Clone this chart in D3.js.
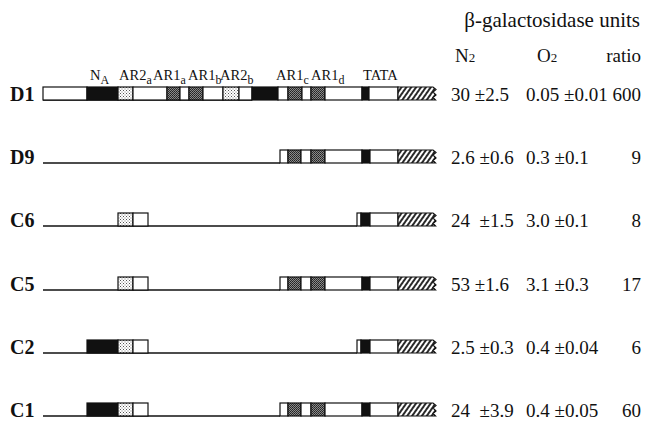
<!DOCTYPE html>
<html>
<head>
<meta charset="utf-8">
<script src="https://cdn.jsdelivr.net/npm/d3@7"></script>
<style>
  body { margin: 0; background: #fff; }
  #chart { width: 650px; height: 421px; }
  text { font-family: "Liberation Serif", "Times New Roman", serif; fill: #111; }
</style>
</head>
<body>
<div id="chart"></div>
<script>
// constructs, top to bottom
const constructs = ["D1", "D9", "C6", "C5", "C2", "C1"];

// promoter pieces: [start, end, kind] in map units (0 = left end of D1)
const d1Parts = [
    [0, 44, "open"], [44, 75, "solid"], [75, 90, "dots"], [90, 124, "open"],
    [124, 137, "dense"], [137, 146, "open"], [146, 160, "dense"], [160, 180, "open"],
    [180, 196, "dots"], [196, 209, "open"], [209, 235, "solid"], [235, 245, "open"],
    [245, 259, "dense"], [259, 268, "open"], [268, 282, "dense"], [282, 319, "open"],
    [319, 326, "solid"], [326, 355, "open"], [355, 390, "hatch"]
];
const d9Parts = [
    [237, 245, "open"], [245, 258, "dense"], [258, 268, "open"], [268, 282, "dense"],
    [282, 319, "open"], [319, 327, "solid"], [327, 355, "open"], [355, 390, "hatch"]
];
const c6Parts = [
    [75, 90, "dots"], [90, 105, "open"],
    [314, 318, "open"], [318, 327, "solid"], [327, 355, "open"], [355, 390, "hatch"]
];
const c5Parts = [[75, 90, "dots"], [90, 105, "open"]].concat(d9Parts);
const c2Parts = [
    [44, 75, "solid"], [75, 90, "dots"], [90, 105, "open"],
    [314, 318, "open"], [318, 327, "solid"], [327, 355, "open"], [355, 390, "hatch"]
];
const c1Parts = [[44, 75, "solid"], [75, 90, "dots"], [90, 105, "open"]].concat(d9Parts);
const partsByConstruct = [d1Parts, d9Parts, c6Parts, c5Parts, c2Parts, c1Parts];

// element names above D1
const siteNames = ["N", "AR2", "AR1", "AR1", "AR2", "AR1", "AR1", "TATA"];
const siteSubs = ["A", "a", "a", "b", "b", "c", "d", ""];
const siteAt = [47, 76, 110, 145, 177, 233, 268, 320];

// beta-galactosidase units
const n2Mean = ["30", "2.6", "24 ", "53", "2.5", "24 "];
const n2Err = ["2.5", "0.6", "1.5", "1.6", "0.3", "3.9"];
const o2Mean = ["0.05", "0.3", "3.0", "3.1", "0.4", "0.4"];
const o2Err = ["0.01", "0.1", "0.1", "0.3", "0.04", "0.05"];
const ratio = ["600", "9", "8", "17", "6", "60"];

const width = 650, height = 421;
const svg = d3.select("#chart").append("svg")
    .attr("width", width)
    .attr("height", height);

const defs = svg.append("defs");

const dots = defs.append("pattern")
    .attr("id", "dots").attr("patternUnits", "userSpaceOnUse")
    .attr("width", 3).attr("height", 3);
dots.append("rect").attr("width", 3).attr("height", 3).attr("fill", "#fff");
dots.append("rect").attr("x", 0).attr("y", 0).attr("width", 1).attr("height", 1).attr("fill", "#555");
dots.append("rect").attr("x", 1.5).attr("y", 1.5).attr("width", 1).attr("height", 1).attr("fill", "#777");

const dense = defs.append("pattern")
    .attr("id", "dense").attr("patternUnits", "userSpaceOnUse")
    .attr("width", 2).attr("height", 2);
dense.append("rect").attr("width", 2).attr("height", 2).attr("fill", "#8a8a8a");
dense.append("rect").attr("width", 1).attr("height", 1).attr("fill", "#222");
dense.append("rect").attr("x", 1).attr("y", 1).attr("width", 1).attr("height", 1).attr("fill", "#333");

const hatch = defs.append("pattern")
    .attr("id", "hatch").attr("patternUnits", "userSpaceOnUse")
    .attr("width", 4).attr("height", 4)
    .attr("patternTransform", "rotate(35)");
hatch.append("rect").attr("width", 4).attr("height", 4).attr("fill", "#fff");
hatch.append("line").attr("x1", 1).attr("y1", 0).attr("x2", 1).attr("y2", 4)
    .attr("stroke", "#111").attr("stroke-width", 1.8);

const fills = { open: "#fff", solid: "#111", dots: "url(#dots)", dense: "url(#dense)", hatch: "url(#hatch)" };

const x = d3.scaleLinear().domain([0, 390]).range([43, 433]);
const y = d3.scaleBand().domain(constructs).range([87, 466]).paddingInner(0);
const boxH = 13;

// header
svg.append("text")
    .attr("x", 640).attr("y", 27)
    .attr("text-anchor", "end")
    .style("font-size", "21px")
    .text("β-galactosidase units");

const head = svg.append("g").style("font-size", "19px");
[["N", 455], ["O", 537]].forEach(([t, hx]) => {
    const h = head.append("text").attr("x", hx).attr("y", 62);
    h.append("tspan").text(t);
    h.append("tspan").style("font-size", "13px").text("2");
});
head.append("text").attr("x", 641).attr("y", 62).attr("text-anchor", "end").text("ratio");

// site labels above D1
const labels = svg.append("g").style("font-size", "14.5px");
siteNames.forEach((name, i) => {
    const t = labels.append("text").attr("x", x(siteAt[i])).attr("y", 80);
    t.append("tspan").text(name);
    if (siteSubs[i]) t.append("tspan").attr("dy", 4).style("font-size", "12px").text(siteSubs[i]);
});

const rows = svg.selectAll(".row")
    .data(constructs)
    .join("g")
    .attr("class", "row")
    .attr("transform", d => `translate(0,${Math.round(y(d))})`);

rows.append("text")
    .attr("x", 10).attr("y", boxH + 0.5)
    .style("font-size", "20px").style("font-weight", "bold")
    .text(d => d);

// thin line for deleted stretches, running to the promoter-proximal box
const proximalStart = partsByConstruct.map(parts => {
    const right = parts.filter(p => p[0] > 200);
    return right.length ? right[0][0] : 0;
});
rows.append("line")
    .attr("x1", x(0))
    .attr("x2", (d, i) => x(proximalStart[i]))
    .attr("y1", boxH).attr("y2", boxH)
    .attr("stroke", "#111").attr("stroke-width", 1.3);

rows.each(function (d, i) {
    const g = d3.select(this);
    partsByConstruct[i].forEach(([s, e, kind]) => {
        if (kind === "hatch") {
            const x0 = x(s), x1 = x(e);
            const path = `M${x0},0 H${x1} L${x1 + 3},2.5 L${x1},5 L${x1 + 3},8 L${x1},10.5 L${x1 + 2.5},${boxH} H${x0} Z`;
            g.append("path").attr("d", path)
                .attr("fill", fills[kind]).attr("stroke", "#111").attr("stroke-width", 1.2);
        } else {
            g.append("rect")
                .attr("x", x(s)).attr("y", 0)
                .attr("width", x(e) - x(s)).attr("height", boxH)
                .attr("fill", fills[kind])
                .attr("stroke", "#111").attr("stroke-width", 1.2);
        }
    });

    const vals = g.append("g").style("font-size", "19px");
    vals.append("text").attr("x", 451).attr("y", boxH + 0.5)
        .style("white-space", "pre")
        .text(`${n2Mean[i]} ±${n2Err[i]}`);
    vals.append("text").attr("x", 526).attr("y", boxH + 0.5)
        .text(`${o2Mean[i]} ±${o2Err[i]}`);
    vals.append("text").attr("x", 641).attr("y", boxH + 0.5)
        .attr("text-anchor", "end")
        .text(ratio[i]);
});
</script>
</body>
</html>
